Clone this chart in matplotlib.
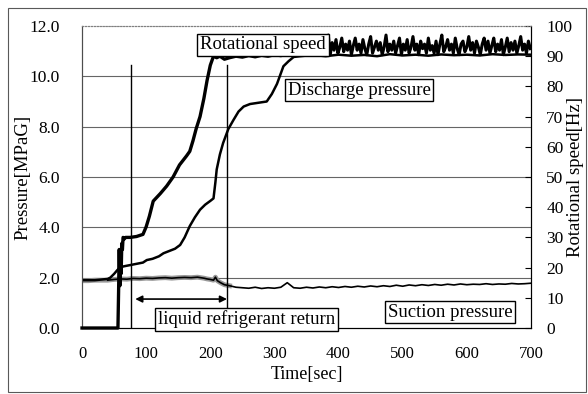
import numpy as np
import matplotlib.pyplot as plt
from matplotlib.patches import Rectangle

plt.rcParams['font.family'] = ['Liberation Serif', 'DejaVu Serif']

# rotational speed [Hz]
rot_t = [0, 56, 57, 58, 59, 60, 61, 62, 63, 64, 66, 68, 75, 85, 95, 100, 105, 111,
         122, 132, 142, 152, 163, 168, 173, 178, 184, 190, 195, 200, 205, 210, 215,
         222, 230, 240, 250, 260, 270, 280, 290, 300, 310, 321]
rot_hz = [0, 0, 12, 26, 14, 22, 18, 28, 26, 30, 29.5, 30, 30, 30.3, 31, 33.5, 37, 42,
          44.5, 47, 50, 54, 57, 58.5, 62, 66, 70, 76, 82, 87, 90, 89.5, 90,
          89, 89.5, 90, 89.7, 90.2, 89.8, 90.3, 90, 90.5, 90.2, 90.8]
rot_noise_t = list(range(324, 700, 3))
rot_noise_hz = [91, 94, 92, 95, 90.5, 93, 96, 91, 94, 92.5, 95, 91, 93.5, 96.5, 90.5, 94, 92, 95,
                91.5, 93, 97, 90.5, 94.5, 92, 95.5, 91, 93, 96, 91.5, 94, 92, 95, 90.5, 93.5, 96, 92,
                94, 91, 95.5, 92.5, 90.5, 94, 96.5, 91, 93, 95, 92, 94.5, 90.5, 93, 97, 91.5, 94, 92,
                95, 91, 93.5, 96, 90.5, 94, 92, 95.5, 91, 93, 96.5, 92, 94, 90.5, 95, 92.5, 94, 91,
                96, 92, 93.5, 91, 95, 90.5, 94, 97, 91.5, 93, 95.5, 92, 94, 91, 96, 92.5, 90.5, 94,
                95, 91.5, 93, 96.5, 92, 94.5, 91, 95, 93, 90.5, 94, 96, 92, 95, 91, 93.5, 96, 91.5,
                94, 92, 95.5, 90.5, 93, 96, 91.5, 94.5, 92, 95, 91, 93.5, 96.5, 92, 94, 91, 95, 92.5]

# discharge pressure [MPaG]
dis_t = [0, 20, 40, 44, 50, 55, 59, 65, 75, 85, 95, 101, 110, 120, 127, 135, 145, 153,
         160, 168, 176, 184, 192, 200, 205, 208, 210, 215, 220, 228, 236, 244, 252, 262,
         275, 288, 296, 304, 314, 322, 330, 340, 360, 380, 400, 420, 440, 460, 480, 500,
         520, 540, 560, 580, 600, 620, 640, 660, 680, 700]
dis_p = [1.9, 1.9, 1.95, 2.0, 2.15, 2.3, 2.4, 2.45, 2.5, 2.55, 2.6, 2.7, 2.75, 2.85,
         2.97, 3.05, 3.15, 3.3, 3.6, 4.05, 4.4, 4.7, 4.9, 5.05, 5.15, 5.8, 6.3, 6.9, 7.35,
         7.9, 8.26, 8.6, 8.8, 8.9, 8.95, 9.0, 9.3, 9.7, 10.4, 10.6, 10.77, 10.8, 10.85,
         10.8, 10.86, 10.82, 10.85, 10.8, 10.88, 10.83, 10.86, 10.82, 10.87, 10.84,
         10.86, 10.83, 10.88, 10.85, 10.87, 10.86]

# suction pressure [MPaG]
suc_t = [0, 10, 20, 30, 40, 50, 60, 70, 80, 90, 100, 110, 120, 130, 140, 150, 160, 170,
         180, 190, 195, 200, 205, 208, 211, 216, 222, 230, 240, 250, 260, 270, 280, 290,
         300, 310, 320, 330, 340, 350, 360, 370, 380, 390, 400, 410, 420, 430, 440, 450,
         460, 470, 480, 490, 500, 510, 520, 530, 540, 550, 560, 570, 580, 590, 600, 610,
         620, 630, 640, 650, 660, 670, 680, 690, 700]
suc_p = [1.88, 1.88, 1.9, 1.9, 1.9, 1.93, 1.95, 1.94, 1.97, 1.96, 1.98, 1.97, 1.99, 2.0,
         1.98, 2.0, 2.01, 2.0, 2.02, 1.98, 1.95, 1.93, 1.9, 2.02, 1.88, 1.8, 1.72, 1.68,
         1.62, 1.6, 1.58, 1.62, 1.57, 1.6, 1.58, 1.62, 1.8, 1.6, 1.58, 1.62, 1.59, 1.63,
         1.6, 1.64, 1.61, 1.65, 1.62, 1.66, 1.63, 1.67, 1.64, 1.68, 1.65, 1.7, 1.66, 1.71,
         1.68, 1.72, 1.69, 1.73, 1.7, 1.74, 1.71, 1.75, 1.72, 1.74, 1.73, 1.76, 1.73, 1.75,
         1.74, 1.77, 1.75, 1.76, 1.78]

x_ticks = [0, 100, 200, 300, 400, 500, 600, 700]
p_ticks = [0, 2, 4, 6, 8, 10, 12]
hz_ticks = [0, 10, 20, 30, 40, 50, 60, 70, 80, 90, 100]

fig = plt.figure(figsize=(5.88, 3.94), dpi=100)
ax = fig.add_axes([0.1395, 0.1675, 0.7635, 0.7665])
ax2 = ax.twinx()

ax.set_xlim(0, 700)
ax.set_ylim(0, 12)
ax2.set_ylim(0, 100)

for g in p_ticks[1:-1]:
    ax.axhline(g, color='0.4', lw=0.8, zorder=1)

# suction, gray underlay in early part then black
n_early = suc_t.index(230) + 1
ax.plot(suc_t[:n_early], suc_p[:n_early], color='0.6', lw=3.5, zorder=2)
ax.plot(suc_t[4:], suc_p[4:], color='black', lw=1.2, zorder=3)
ax.plot(dis_t, dis_p, color='black', lw=1.8, zorder=3)

ax2.plot(rot_t, rot_hz, color='black', lw=2.4, zorder=3, clip_on=False)
ax2.plot(rot_t[-1:] + rot_noise_t, rot_hz[-1:] + rot_noise_hz, color='black',
         lw=2.2, zorder=3)

# liquid refrigerant return markers
ax.plot([76, 76], [0, 10.45], color='black', lw=1)
ax.plot([226, 226], [0, 10.45], color='black', lw=1)
ax.annotate('', xy=(83, 1.15), xytext=(226, 1.15),
            arrowprops=dict(arrowstyle='<|-|>', color='black', lw=1.2,
                            shrinkA=0, shrinkB=0, mutation_scale=10))

box = dict(boxstyle='square,pad=0.15', fc='white', ec='black', lw=1)
ax2.set_zorder(ax.get_zorder() + 1)
ax2.patch.set_visible(False)
ax2.text(282, 11.25 * 100 / 12, 'Rotational speed', fontsize=13.5, ha='center',
         va='center', bbox=box, zorder=5)
ax2.text(432, 9.45 * 100 / 12, 'Discharge pressure', fontsize=13.5, ha='center',
         va='center', bbox=box, zorder=5)
ax2.text(256, 0.34 * 100 / 12, 'liquid refrigerant return', fontsize=13.5,
         ha='center', va='center', bbox=box, zorder=5)
ax2.text(574, 0.63 * 100 / 12, 'Suction pressure', fontsize=13.5, ha='center',
         va='center', bbox=box, zorder=5)

ax.set_xticks(x_ticks)
ax.set_yticks(p_ticks)
ax.set_yticklabels(['%.1f' % v for v in p_ticks])
ax.tick_params(axis='both', length=0, labelsize=12.5)
ax.tick_params(axis='y', pad=16)
ax.tick_params(axis='x', pad=13, labelsize=12)
ax2.set_yticks(hz_ticks)
ax2.tick_params(axis='y', direction='in', length=4, labelsize=12.5, pad=11)

ax.set_xlabel('Time[sec]', fontsize=13)
ax.xaxis.set_label_coords(0.5, -0.125)
ax.set_ylabel('Pressure[MPaG]', fontsize=13.5, va='center')
ax.yaxis.set_label_coords(-0.131, 0.5)
ax2.set_ylabel('Rotational speed[Hz]', fontsize=13.5, rotation=90, va='center')
ax2.yaxis.set_label_coords(1.1, 0.5)

for a in (ax, ax2):
    a.spines['top'].set_linestyle(':')
    a.spines['top'].set_color('0.5')
    a.spines['left'].set_color('0.3')
    a.spines['left'].set_linewidth(0.8)

fig.patches.append(Rectangle((8 / 588, 2 / 394), 578 / 588, 384 / 394,
                             transform=fig.transFigure, fill=False,
                             ec='0.35', lw=0.8))

fig.savefig('out.png', dpi=100)
